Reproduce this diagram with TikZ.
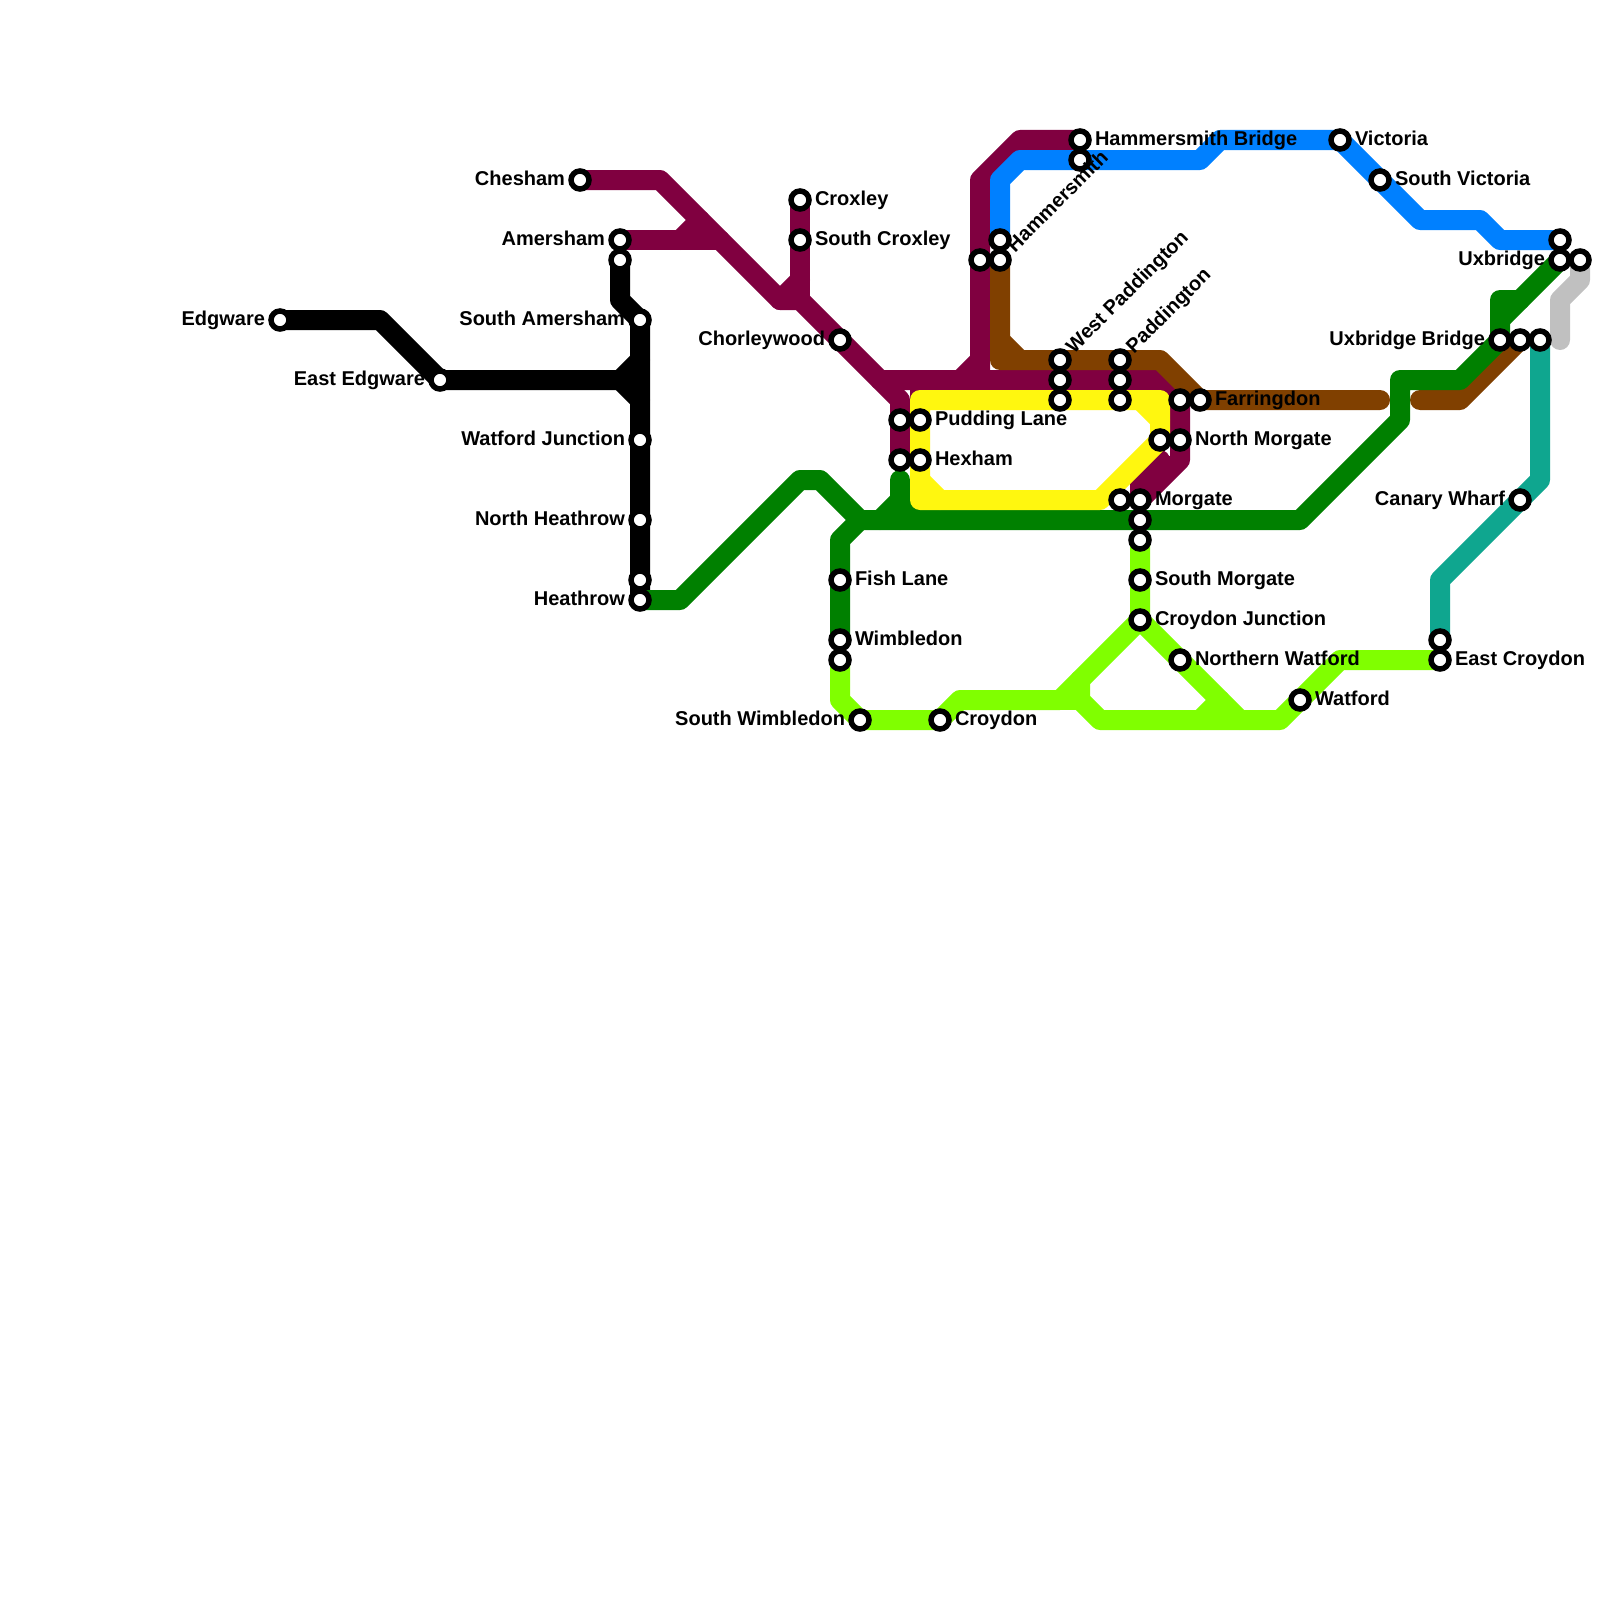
\documentclass[tikz,border=0pt]{standalone}
\usepackage{fontspec}
\setmainfont{Liberation Sans}
\pgfdeclarelayer{lines}
\pgfsetlayers{lines,main}
\definecolor{cMaroon}{RGB}{128,0,64}
\definecolor{cBlue}{RGB}{0,128,255}
\definecolor{cBrown}{RGB}{128,64,0}
\definecolor{cGreen}{RGB}{0,128,0}
\definecolor{cLime}{RGB}{128,255,0}
\definecolor{cYellow}{RGB}{255,247,15}
\definecolor{cTeal}{RGB}{15,166,143}
\definecolor{cGrey}{RGB}{192,192,192}
\tikzset{
  stn/.style={circle,draw=black,fill=white,line width=5.5pt,minimum size=18pt,inner sep=0pt,outer sep=0pt},
  lbl/.style={inner sep=0pt,outer sep=0pt,text=black,font=\fontsize{20}{22}\selectfont\bfseries},
  lblR/.style={lbl,anchor=base west},
  lblL/.style={lbl,anchor=base east},
  lblD/.style={lbl,anchor=base west,rotate=45},
  metro/.style={line width=20pt,line cap=round,line join=round},
}
\begin{document}
\begin{tikzpicture}[x=1pt,y=-1pt]
\useasboundingbox (0,0) rectangle (1600,1600);
% stations
\foreach \n/\x/\y in {edg/280/320,eedg/440/380,chs/580/180,ame/620/240,amb/620/260,sam/640/320,
  wat/640/440,nhe/640/520,hea/640/580,heb/640/600,cro/800/200,scr/800/240,cho/840/340,
  pma/900/420,hma/900/460,pud/920/420,hex/920/460,hmw/980/260,hmb/1000/240,hmm/1000/260,
  hbr/1080/140,hbb/1080/160,wpa/1060/360,wpb/1060/380,wpc/1060/400,pad/1120/360,pab/1120/380,pac/1120/400,
  fam/1180/400,far/1200/400,nmy/1160/440,nmo/1180/440,moy/1120/500,mor/1140/500,mog/1140/520,mol/1140/540,
  smo/1140/580,cjn/1140/620,nwa/1180/660,wfd/1300/700,ect/1440/640,ecr/1440/660,fis/840/580,wim/840/640,wil/840/660,
  swi/860/720,cry/940/720,vic/1340/140,svi/1380/180,uxb/1560/240,uxg/1560/260,uxc/1580/260,
  ubg/1500/340,ubb/1520/340,ubt/1540/340,can/1520/500}
  {\node[stn] (\n) at (\x,\y) {};}
% bends
\foreach \n/\x/\y in {a1/380/320,a2/620/380,a3/640/360,a4/640/400,a5/620/300,
  m1/660/180,m2/900/400,m4/720/240,m5/680/240,m6/700/220,m7/780/300,m8/800/300,m9/800/280,
  m10/880/380,m11/1160/380,m12/1180/400,m13/1180/460,m14/1160/460,m15/1140/480,m16/980/380,m17/960/380,m18/980/360,m19/980/180,m20/1020/140,m21/920/380,m22/920/400,
  b1/1000/180,b2/1020/160,b3/1200/160,b4/1220/140,b5/1420/220,b6/1480/220,b7/1500/240,
  r1/1000/360,r2/1160/360,r3/1380/400,r4/1000/340,r5/1020/360,r6/1420/400,r7/1460/400,
  g1/680/600,g2/800/480,g3/820/480,g4/860/520,g5/1300/520,g6/1400/420,g7/1400/380,g8/1460/380,g9/1500/340,g10/1500/300,g11/1520/300,g12/1500/320,g13/840/540,g14/900/480,g15/900/500,g16/880/520,g17/900/520,g18/920/500,g19/920/520,
  l1/1060/700,l2/960/700,l3/940/720,l4/840/700,l5/1240/720,l6/1080/680,l7/1080/700,l8/1100/720,l9/1280/720,l10/1340/660,l11/1200/720,l12/1220/700,
  y1/920/400,y2/1160/400,y3/1160/440,y4/1100/500,y5/920/500,y6/1140/400,y7/1160/420,y8/920/480,y9/940/500,
  t1/1540/480,t2/1440/580,k1/1560/340,k2/1560/300,k3/1580/280,c0/0/0,c1/1600/1600}
  {\coordinate (\n) at (\x,\y);}
\begin{pgfonlayer}{lines}
\fill[white] (c0) rectangle (c1);
% black
\draw[metro,black] (edg.center)--(a1)--(eedg.center)--(a2)--(a3);
\draw[metro,black] (a2)--(a4);
\draw[metro,black] (amb.center)--(a5)--(sam.center)--(heb.center);
% maroon
\draw[metro,cMaroon] (chs.center)--(m1)--(m7)--(m8)--(m2)--(hma.center);
\draw[metro,cMaroon] (ame.center)--(m4);
\draw[metro,cMaroon] (m5)--(m6);
\draw[metro,cMaroon] (cro.center)--(m8);
\draw[metro,cMaroon] (m7)--(m9);
\draw[metro,cMaroon] (m10)--(m11)--(m12)--(m13)--(mor.center)--(m15)--(m14);
\draw[metro,cMaroon] (m21)--(m22);
\draw[metro,cMaroon] (hbr.center)--(m20)--(m19)--(m16);
\draw[metro,cMaroon] (m17)--(m18);
% blue
\draw[metro,cBlue] (hmb.center)--(b1)--(b2)--(b3)--(b4)--(vic.center)--(b5)--(b6)--(b7)--(uxb.center);
% brown
\draw[metro,cBrown] (hmm.center)--(r1)--(r2)--(far.center)--(r3);
\draw[metro,cBrown] (r4)--(r5);
\draw[metro,cBrown] (r6)--(r7)--(ubb.center);
% green
\draw[metro,cGreen] (heb.center)--(g1)--(g2)--(g3)--(g4)--(g5)--(g6)--(g7)--(g8)--(g9)--(g10)--(g11);
\draw[metro,cGreen] (g12)--(uxg.center);
\draw[metro,cGreen] (wim.center)--(g13)--(g4);
\draw[metro,cGreen] (g14)--(g17);
\draw[metro,cGreen] (g15)--(g16);
\draw[metro,cGreen] (g18)--(g19);
% lime
\draw[metro,cLime] (mol.center)--(cjn.center)--(l1)--(l2)--(l3)--(swi.center)--(l4)--(wil.center);
\draw[metro,cLime] (cjn.center)--(l5);
\draw[metro,cLime] (l6)--(l7)--(l8)--(l9)--(l10)--(ecr.center);
\draw[metro,cLime] (l1)--(l7);
\draw[metro,cLime] (l11)--(l12);
% yellow
\draw[metro,cYellow] (y1)--(y2)--(y3)--(y4)--(y5)--cycle;
\draw[metro,cYellow] (y6)--(y7);
\draw[metro,cYellow] (y8)--(y9);
% teal, grey
\draw[metro,cTeal] (ubt.center)--(t1)--(t2)--(ect.center);
\draw[metro,cGrey] (k1)--(k2)--(k3)--(uxc.center);
\end{pgfonlayer}
% labels
\foreach \n/\x/\y/\t in {ledg/265/325.5/Edgware,leedg/425/385.5/East Edgware,lchs/565/185.5/Chesham,lame/605/245.5/Amersham,
  lsam/625/325.5/South Amersham,lwat/625/445.5/Watford Junction,lnhe/625/525.5/North Heathrow,lhea/625/605.5/Heathrow,
  lcho/825/345.5/Chorleywood,lswi/845/725.5/South Wimbledon,luxg/1545/265.5/Uxbridge,lubg/1485/345.5/Uxbridge Bridge,lcan/1505/505.5/Canary Wharf}
  {\node[lblL] (t\n) at (\x,\y) {\t};}
\foreach \n/\x/\y/\t in {lcro/815/205.5/Croxley,lscr/815/245.5/South Croxley,lpud/935/425.5/Pudding Lane,lhex/935/465.5/Hexham,
  lhbr/1095/145.5/Hammersmith Bridge,lvic/1355/145.5/Victoria,lsvi/1395/185.5/South Victoria,lfar/1215/405.5/Farringdon,
  lnmo/1195/445.5/North Morgate,lmor/1155/505.5/Morgate,lsmo/1155/585.5/South Morgate,lcjn/1155/625.5/Croydon Junction,
  lnwa/1195/665.5/Northern Watford,lwfd/1315/705.5/Watford,lecr/1455/665.5/East Croydon,lfis/855/585.5/Fish Lane,
  lwim/855/645.5/Wimbledon,lcry/955/725.5/Croydon}
  {\node[lblR] (t\n) at (\x,\y) {\t};}
\node[lblD] (thmm) at (1015,253) {Hammersmith};
\node[lblD] (twpa) at (1074,354) {West Paddington};
\node[lblD] (tpad) at (1134,354) {Paddington};
\end{tikzpicture}
\end{document}
